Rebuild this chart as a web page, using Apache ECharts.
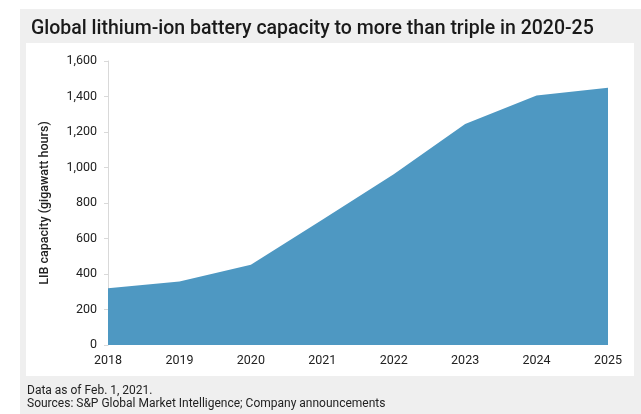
<!DOCTYPE html>
<html>
<head>
<meta charset="utf-8">
<script src="https://cdn.jsdelivr.net/npm/echarts@6/dist/echarts.min.js"></script>
<style>
  html, body { margin: 0; padding: 0; background: #fff; }
  #chart { width: 641px; height: 414px; }
</style>
</head>
<body>
<div id="chart"></div>
<script>
// data
const years = ['2018', '2019', '2020', '2021', '2022', '2023', '2024', '2025'];
const capacity = [320, 358, 452, 705, 962, 1245, 1405, 1450];
const yTicks = [0, 200, 400, 600, 800, 1000, 1200, 1400, 1600];

const chart = echarts.init(document.querySelector('#chart'));
chart.setOption({
    animation: false,
    textStyle: {
        fontFamily: 'Roboto, "Noto Sans", sans-serif'
    },
    graphic: [
        {
            type: 'rect',
            z: -10,
            shape: { x: 20, y: 9, width: 621, height: 405 },
            style: { fill: '#efefef' }
        },
        {
            type: 'rect',
            z: -9,
            shape: { x: 26, y: 43, width: 608, height: 333 },
            style: { fill: '#ffffff' }
        },
        {
            type: 'text',
            left: 27,
            top: 384,
            style: {
                text: 'Data as of Feb. 1, 2021.\nSources: S&P Global Market Intelligence; Company announcements',
                fontSize: 12,
                lineHeight: 13,
                fill: '#222',
                fontFamily: 'Roboto, sans-serif'
            }
        }
    ],
    title: {
        text: 'Global lithium-ion battery capacity to more than triple in 2020-25',
        left: 26,
        top: 14,
        textStyle: {
            fontSize: 19.5,
            fontWeight: 500,
            color: '#1a1a1a'
        }
    },
    grid: {
        left: 108,
        right: 33,
        top: 61,
        bottom: 69
    },
    xAxis: {
        type: 'category',
        boundaryGap: false,
        data: years,
        axisLine: { show: false },
        axisTick: { show: false },
        axisLabel: {
            color: '#222',
            fontSize: 12.5,
            margin: 9
        }
    },
    yAxis: {
        type: 'value',
        min: yTicks[0],
        max: yTicks[yTicks.length - 1],
        interval: yTicks[1] - yTicks[0],
        name: 'LIB capacity (gigawatt hours)',
        nameLocation: 'middle',
        nameGap: 57,
        nameTextStyle: {
            color: '#222',
            fontSize: 12.5,
            fontWeight: 500
        },
        axisLine: {
            show: true,
            lineStyle: { color: '#d9d9d9' }
        },
        axisTick: {
            show: true,
            length: 4,
            lineStyle: { color: '#d9d9d9' }
        },
        splitLine: { show: false },
        axisLabel: {
            color: '#222',
            fontSize: 12.5,
            margin: 11,
            formatter: v => v.toLocaleString('en-US')
        }
    },
    series: [
        {
            type: 'line',
            data: capacity,
            symbol: 'none',
            lineStyle: { width: 0 },
            areaStyle: {
                color: '#4e98c2',
                opacity: 1
            }
        }
    ]
});
</script>
</body>
</html>
